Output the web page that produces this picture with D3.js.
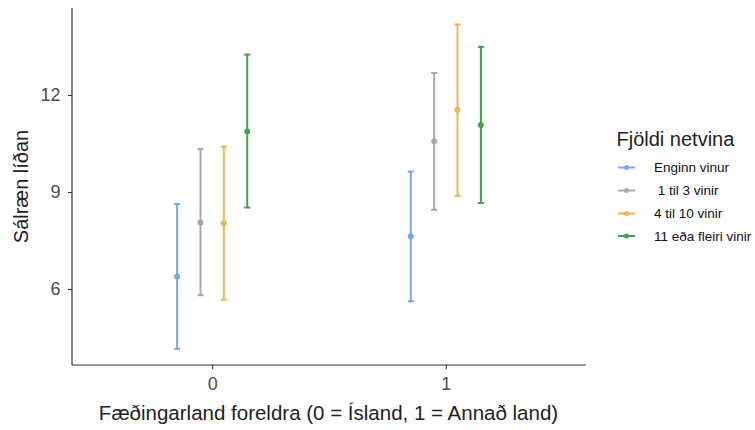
<!DOCTYPE html>
<html>
<head>
<meta charset="utf-8">
<script src="https://cdn.jsdelivr.net/npm/d3@7"></script>
<style>
  body { margin: 0; background: #fff; }
  svg { font-family: "Liberation Sans", Arial, sans-serif; }
</style>
</head>
<body>
<svg id="chart" width="755" height="430"></svg>
<script>
// Data
const groups = ["0", "1"];
const series = ["Enginn vinur", " 1 til 3 vinir", "4 til 10 vinir", "11 eða fleiri vinir"];
const colors = ["#78a5ec", "#a9a9a9", "#efb54f", "#3fa34d"];
const means = [[6.39, 8.06, 8.03, 10.87], [7.63, 10.57, 11.54, 11.07]];
const lower = [[4.15, 5.81, 5.67, 8.52], [5.62, 8.45, 8.88, 8.66]];
const upper = [[8.63, 10.33, 10.40, 13.25], [9.63, 12.68, 14.18, 13.49]];
const yTicks = [6, 9, 12];
const dodgeOffsets = [-0.15, -0.05, 0.05, 0.15];

const svg = d3.select("#chart");
const mLeft = 72, mRight = 586, mTop = 8, mBottom = 365;

// Discrete x positions via a linear scale on group index (ggplot expansion 0.6)
const x = d3.scaleLinear().domain([-0.6, 1.6]).range([mLeft, mRight]);
const y = d3.scaleLinear().domain([3.65, 14.69]).range([mBottom, mTop]);

const axisColor = "#333333";
const tickColor = "#4d4d4d";

// Y axis
const yAxis = svg.append("g").attr("transform", `translate(${mLeft},0)`)
  .call(d3.axisLeft(y).tickValues(yTicks).tickSize(4).tickPadding(7.5));
yAxis.select(".domain").remove();
yAxis.selectAll(".tick line").attr("stroke", axisColor).attr("stroke-width", 1.1);
yAxis.selectAll(".tick text").attr("fill", tickColor).style("font-size", "18px");
svg.append("line").attr("x1", mLeft).attr("x2", mLeft).attr("y1", mTop).attr("y2", mBottom)
  .attr("stroke", axisColor).attr("stroke-width", 1.2);

// X axis
const xAxis = svg.append("g").attr("transform", `translate(0,${mBottom})`)
  .call(d3.axisBottom(x).tickValues([0, 1]).tickFormat((d, i) => groups[i]).tickSize(4).tickPadding(8.5));
xAxis.select(".domain").remove();
xAxis.selectAll(".tick line").attr("stroke", axisColor).attr("stroke-width", 1.1);
xAxis.selectAll(".tick text").attr("fill", tickColor).style("font-size", "18px");
svg.append("line").attr("x1", mLeft).attr("x2", mRight).attr("y1", mBottom).attr("y2", mBottom)
  .attr("stroke", axisColor).attr("stroke-width", 1.2);

// Error bars
const capHalf = 3;
groups.forEach((g, gi) => {
  series.forEach((s, si) => {
    const cx = x(gi + dodgeOffsets[si]);
    const grp = svg.append("g").attr("stroke", colors[si]).attr("stroke-width", 2);
    grp.append("line").attr("x1", cx).attr("x2", cx).attr("y1", y(lower[gi][si])).attr("y2", y(upper[gi][si]));
    grp.append("line").attr("x1", cx - capHalf).attr("x2", cx + capHalf).attr("y1", y(lower[gi][si])).attr("y2", y(lower[gi][si]));
    grp.append("line").attr("x1", cx - capHalf).attr("x2", cx + capHalf).attr("y1", y(upper[gi][si])).attr("y2", y(upper[gi][si]));
    svg.append("circle").attr("cx", cx).attr("cy", y(means[gi][si])).attr("r", 3).attr("fill", colors[si]);
  });
});

// Axis titles
svg.append("text").attr("x", (mLeft + mRight) / 2 - 0.5).attr("y", 420).attr("text-anchor", "middle")
  .attr("fill", "#222").style("font-size", "20.5px")
  .text("Fæðingarland foreldra (0 = Ísland, 1 = Annað land)");
svg.append("text").attr("transform", `translate(28,${(mTop + mBottom) / 2}) rotate(-90)`)
  .attr("text-anchor", "middle").attr("fill", "#222").style("font-size", "20px")
  .text("Sálræn líðan");

// Legend
const legend = svg.append("g");
legend.append("text").attr("x", 616.5).attr("y", 146).attr("fill", "#222").style("font-size", "20px")
  .text("Fjöldi netvina");
const legY = [167.5, 190.5, 213.5, 236];
series.forEach((s, si) => {
  const ly = legY[si];
  legend.append("line").attr("x1", 618).attr("x2", 635).attr("y1", ly).attr("y2", ly)
    .attr("stroke", colors[si]).attr("stroke-width", 2);
  legend.append("circle").attr("cx", 626.5).attr("cy", ly).attr("r", 2.5).attr("fill", colors[si]);
  legend.append("text").attr("x", 654).attr("y", ly + 4.5).attr("fill", "#111")
    .style("font-size", "13.5px").style("white-space", "pre").attr("xml:space", "preserve").text(s);
});
</script>
</body>
</html>
